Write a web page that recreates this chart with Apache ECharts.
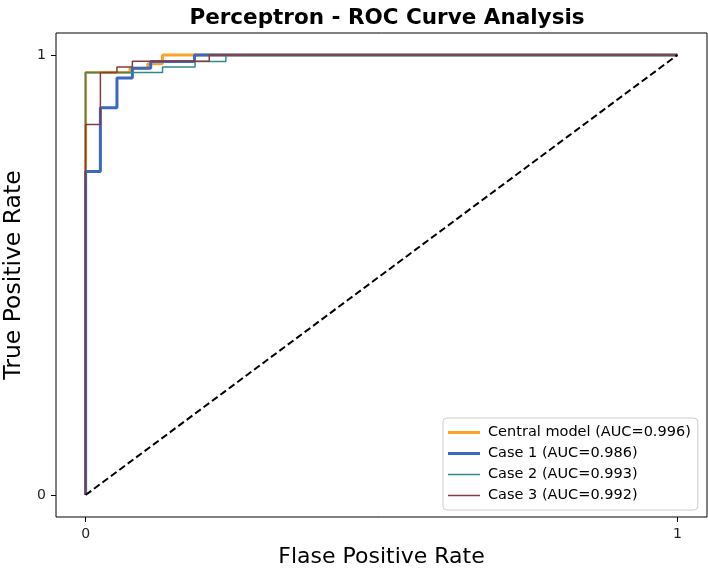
<!DOCTYPE html>
<html>
<head>
<meta charset="utf-8">
<script src="https://cdn.jsdelivr.net/npm/echarts@6/dist/echarts.min.js"></script>
<style>
  html, body { margin: 0; padding: 0; background: #fff; }
  #chart { width: 708px; height: 572px; }
</style>
</head>
<body>
<div id="chart"></div>
<script>
// ROC step curves: false positive rate / true positive rate per model
const centralFpr = [0, 0, 0.075, 0.075, 0.105, 0.105, 0.13, 0.13, 1];
const centralTpr = [0, 0.96, 0.96, 0.97, 0.97, 0.98, 0.98, 1, 1];

const case1Fpr = [0, 0, 0.025, 0.025, 0.053, 0.053, 0.079, 0.079, 0.11, 0.11, 0.184, 0.184, 1];
const case1Tpr = [0, 0.735, 0.735, 0.88, 0.88, 0.948, 0.948, 0.97, 0.97, 0.985, 0.985, 1, 1];

const case2Fpr = [0, 0, 0.13, 0.13, 0.185, 0.185, 0.237, 0.237, 1];
const case2Tpr = [0, 0.96, 0.96, 0.973, 0.973, 0.985, 0.985, 1, 1];

const case3Fpr = [0, 0, 0.025, 0.025, 0.053, 0.053, 0.079, 0.079, 0.209, 0.209, 1];
const case3Tpr = [0, 0.842, 0.842, 0.96, 0.96, 0.973, 0.973, 0.986, 0.986, 1, 1];

const chanceFpr = [0, 1];
const chanceTpr = [0, 1];

const seriesNames = [
  'Central model (AUC=0.996)',
  'Case 1 (AUC=0.986)',
  'Case 2 (AUC=0.993)',
  'Case 3 (AUC=0.992)'
];
const tickValues = [0, 1];

const pairs = (xs, ys) => xs.map((x, i) => [x, ys[i]]);

const chart = echarts.init(document.getElementById('chart'), null, { renderer: 'canvas' });

const FONT = 'DejaVu Sans';
const COLORS = ['#ffa224', '#3b68c3', '#2e8b8b', '#8b3a3a'];
const WIDTHS = [3, 3, 1.5, 1.5];

function curve(i, xs, ys) {
  return {
    name: seriesNames[i],
    type: 'line',
    data: pairs(xs, ys),
    symbol: 'none',
    silent: true,
    lineStyle: { color: COLORS[i], width: WIDTHS[i] },
    itemStyle: { color: COLORS[i] }
  };
}

// flat bar used as the legend key, thickness follows the line width
const legendKey = (w) => 'path://M0,0H32V' + w + 'H0Z';

const axisCommon = {
  type: 'value',
  min: -0.05,
  max: 1.05,
  splitLine: { show: false },
  axisLine: { show: false, onZero: false },
  axisTick: { show: true, length: 5, lineStyle: { color: '#000', width: 1 }, customValues: tickValues },
  nameLocation: 'middle'
};

chart.setOption({
  animation: false,
  backgroundColor: '#fff',
  title: {
    text: 'Perceptron - ROC Curve Analysis',
    left: 382,
    textAlign: 'center',
    top: 2,
    textStyle: { fontFamily: FONT, fontSize: 21.5, fontWeight: 'bold', color: '#000' }
  },
  grid: {
    left: 56, right: 1, top: 33, bottom: 55,
    outerBoundsMode: 'none',
    containLabel: false,
    show: true, borderColor: '#000', borderWidth: 1, backgroundColor: 'transparent'
  },
  xAxis: Object.assign({}, axisCommon, {
    name: 'Flase Positive Rate', nameGap: 28,
    nameTextStyle: { fontFamily: FONT, fontSize: 22, color: '#000' },
    axisLabel: { fontFamily: FONT, fontSize: 14, color: '#222', customValues: tickValues, margin: 10 }
  }),
  yAxis: Object.assign({}, axisCommon, {
    name: 'True Positive Rate', nameGap: 26,
    nameTextStyle: { fontFamily: FONT, fontSize: 23.5, color: '#000' },
    axisLabel: { fontFamily: FONT, fontSize: 14, color: '#222', customValues: tickValues, margin: 10 }
  }),
  legend: {
    orient: 'vertical',
    left: 443,
    top: 418,
    padding: [7, 7, 7, 5],
    itemWidth: 32,
    itemHeight: 14,
    itemGap: 6,
    backgroundColor: 'rgba(255,255,255,0.85)',
    borderColor: '#cccccc',
    borderWidth: 1,
    borderRadius: 4,
    textStyle: { fontFamily: FONT, fontSize: 14.5, color: '#000', padding: [0, 0, 0, 3] },
    data: seriesNames.map((n, i) => ({ name: n, icon: legendKey(WIDTHS[i]) }))
  },
  series: [
    curve(0, centralFpr, centralTpr),
    curve(1, case1Fpr, case1Tpr),
    curve(2, case2Fpr, case2Tpr),
    curve(3, case3Fpr, case3Tpr),
    {
      type: 'line',
      data: pairs(chanceFpr, chanceTpr),
      symbol: 'none',
      silent: true,
      lineStyle: { color: '#000', width: 2, type: [7, 3.5] }
    }
  ]
});
</script>
</body>
</html>
